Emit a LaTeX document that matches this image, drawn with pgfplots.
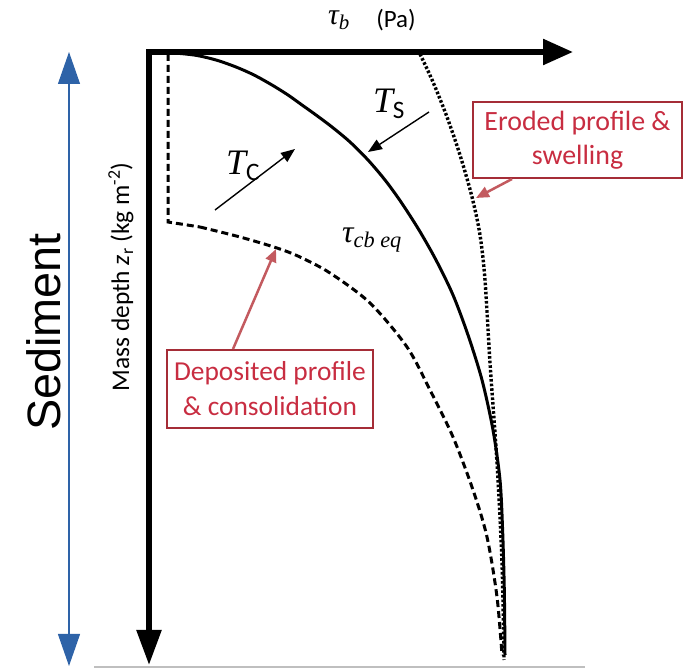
\documentclass[border=0pt]{standalone}
\usepackage{fix-cm}
\usepackage{fontspec}
\setmainfont{Carlito}
\newfontfamily\arialf{Liberation Sans}
\newfontfamily\serifit{Liberation Serif}
\usepackage{pgfplots}
\pgfplotsset{compat=1.18}
\usetikzlibrary{arrows.meta}
\definecolor{sedblue}{RGB}{46,99,168}
\definecolor{boxred}{RGB}{165,45,55}
\definecolor{textred}{RGB}{200,45,65}
\definecolor{arrred}{RGB}{195,90,95}
\begin{document}
\begin{tikzpicture}
\begin{axis}[
  scale only axis, width=685bp, height=670bp,
  xmin=0, xmax=685, ymin=0, ymax=670, y dir=reverse,
  hide axis, clip=false,
]
\addplot[draw=none, forget plot] coordinates {(0,0) (685,670)};
% blue sediment arrow
\draw[sedblue, line width=1.2bp, {Triangle[length=32bp,width=22bp]}-{Triangle[length=32bp,width=22bp]}] (axis cs:69,52) -- (axis cs:69,666);
\node[rotate=90, font=\arialf\fontsize{47}{50}\selectfont, inner sep=0] at (axis cs:44,332) {Sediment};
% bottom gray line
\draw[black!25, line width=2bp] (axis cs:94,667) -- (axis cs:585,667);
% main axes
\draw[line width=5.5bp, line join=miter, {Triangle[length=35bp,width=24bp]}-{Triangle[length=30bp,width=25bp]}] (axis cs:149,665) -- (axis cs:149,52) -- (axis cs:573,52);
% axis labels
\node[font=\serifit\itshape\fontsize{30}{32}\selectfont, anchor=base] at (axis cs:339,25) {τ\textsubscript{b}};
\node[font=\fontsize{25}{28}\selectfont, anchor=base] at (axis cs:396,28) {(Pa)};
\node[rotate=90, font=\fontsize{25.5}{28}\selectfont] at (axis cs:121,277) {Mass depth {\itshape z}\textsubscript{r} (kg m\textsuperscript{-2})};
% dashed deposited profile
\addplot[black, line width=3bp, dash pattern=on 7bp off 4bp, sharp plot] coordinates {(168,54) (168,222) (200,227)};
\addplot[black, line width=3bp, dash pattern=on 7bp off 4bp, smooth] coordinates {
(200,227) (240,237) (277,248) (300,257) (330,273) (370,303) (407,347) (430,390) (453,437) (473,490) (487,537) (497,597) (502,655)};
% solid equilibrium profile
\addplot[black, line width=3bp, smooth] coordinates {
(163,52) (194,55) (216,60) (236,67) (254,75) (272,85) (288,95) (302,105) (316,115) (332,127) (350,142) (368,160) (385,180) (401,202) (419,230) (436,260) (453,295) (468,335) (482,380) (493,430) (500,480) (502.6,530) (504.3,590) (505,655)};
% dotted eroded profile
\addplot[black, line width=3.4bp, dash pattern=on 2.6bp off 2bp, smooth] coordinates {
(420,54) (433,82) (447,117) (460,155) (472,197) (480,235) (485,280) (490,363) (497,463) (502,563) (504,660)};
% small black arrows
\draw[black, line width=1.4bp, -{Triangle[length=14bp,width=11bp]}] (axis cs:215,210) -- (axis cs:295,149);
\draw[black, line width=1.4bp, -{Triangle[length=14bp,width=11bp]}] (axis cs:429,112) -- (axis cs:368,152);
\node[font=\fontsize{36}{38}\selectfont] at (axis cs:243,166) {{\serifit\itshape T}\textsubscript{C}};
\node[font=\fontsize{36}{38}\selectfont] at (axis cs:389,104) {{\serifit\itshape T}\textsubscript{S}};
\node[font=\serifit\itshape\fontsize{32}{34}\selectfont] at (axis cs:372,240) {τ\textsubscript{cb eq}};
% red boxes
\node[draw=boxred, line width=1.5bp, text=textred, align=center, font=\fontsize{28}{34}\selectfont, minimum width=209bp, minimum height=76bp, inner sep=0] at (axis cs:577.5,140) {Eroded profile \&\\swelling};
\node[draw=boxred, line width=1.5bp, text=textred, align=center, font=\fontsize{27.5}{35}\selectfont, minimum width=206bp, minimum height=78bp, inner sep=0] at (axis cs:270,389) {Deposited profile\\\& consolidation};
\draw[arrred, line width=2.5bp, -{Triangle[length=13bp,width=11bp]}] (axis cs:512,179) -- (axis cs:476,198);
\draw[arrred, line width=2.5bp, -{Triangle[length=13bp,width=11bp]}] (axis cs:233,349) -- (axis cs:276,249);
\end{axis}
\end{tikzpicture}
\end{document}
